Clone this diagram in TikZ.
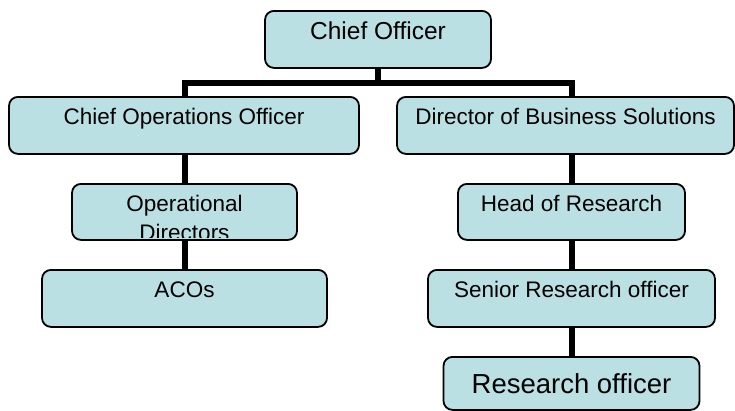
\documentclass[tikz,border=0pt]{standalone}
\usepackage{fontspec}
\setmainfont{Liberation Sans}
\usetikzlibrary{positioning,calc}
\definecolor{boxblue}{RGB}{187,224,227}
\tikzset{
  post/.style = {rectangle, draw, line width=1.8pt, rounded corners=9pt,
                 fill=boxblue, inner sep=0pt, anchor=north,
                 minimum height=57pt, text height=28pt, text depth=29pt,
                 font=\fontsize{22.5}{28}\selectfont},
  link/.style = {line width=6pt, line cap=butt, line join=miter}
}

\begin{document}
\begin{tikzpicture}[x=1pt, y=-1pt]
\useasboundingbox (0,0) rectangle (735,410);

% --- Kaesten -----------------------------------------------------
\node[post, minimum width=226pt, text height=29pt, text depth=28pt,
      font=\fontsize{24.5}{29}\selectfont] (chief) at (378,10) {Chief Officer};
\node[post, minimum width=350pt] (coo) at (184,96) {Chief Operations Officer};
\node[post, minimum width=337pt] (dbs) at (565.5,96) {Director of Business Solutions};
\node[post, minimum width=225pt, minimum height=56pt, text depth=28pt] (opdir) at (184.5,183) {};
\node[post, minimum width=285pt] (aco) at (184.5,269) {ACOs};
\node[post, minimum width=227pt, minimum height=56pt, text depth=28pt] (head) at (571.5,183) {Head of Research};
\node[post, minimum width=287pt] (senior) at (571.5,269) {Senior Research officer};
\node[post, minimum width=256pt, minimum height=53pt, text height=36.5pt, text depth=16.5pt,
      font=\fontsize{27.5}{33}\selectfont] (resoff) at (571.5,356) {Research officer};

% --- Text, unten abgeschnitten -------------------------------------
\begin{scope}
  \clip[rounded corners=8pt] ($(opdir.north west)+(1,1)$) rectangle ($(opdir.south east)+(-1,-3)$);
  \node[font=\fontsize{22.5}{29}\selectfont, align=center, inner sep=0pt, anchor=north]
    (opdirtext) at ($(opdir.north)+(0,12)$) {Operational\\Directors};
\end{scope}

% --- Linien --------------------------------------------------------
\draw[link] (chief.south) -- ++(0,14) coordinate (bar);         % Sammelschiene
\draw[link] (coo.north -| opdir.north) |- (bar) -| (dbs.north -| head.north);
\draw[link] (coo.south -| opdir.north) -- (opdir.north);
\draw[link] (opdir.south) -- (aco.north);
\draw[link] (dbs.south -| head.north) -- (head.north);
\draw[link] (head.south) -- (senior.north);
\draw[link] (senior.south) -- (resoff.north);
\end{tikzpicture}
\end{document}
